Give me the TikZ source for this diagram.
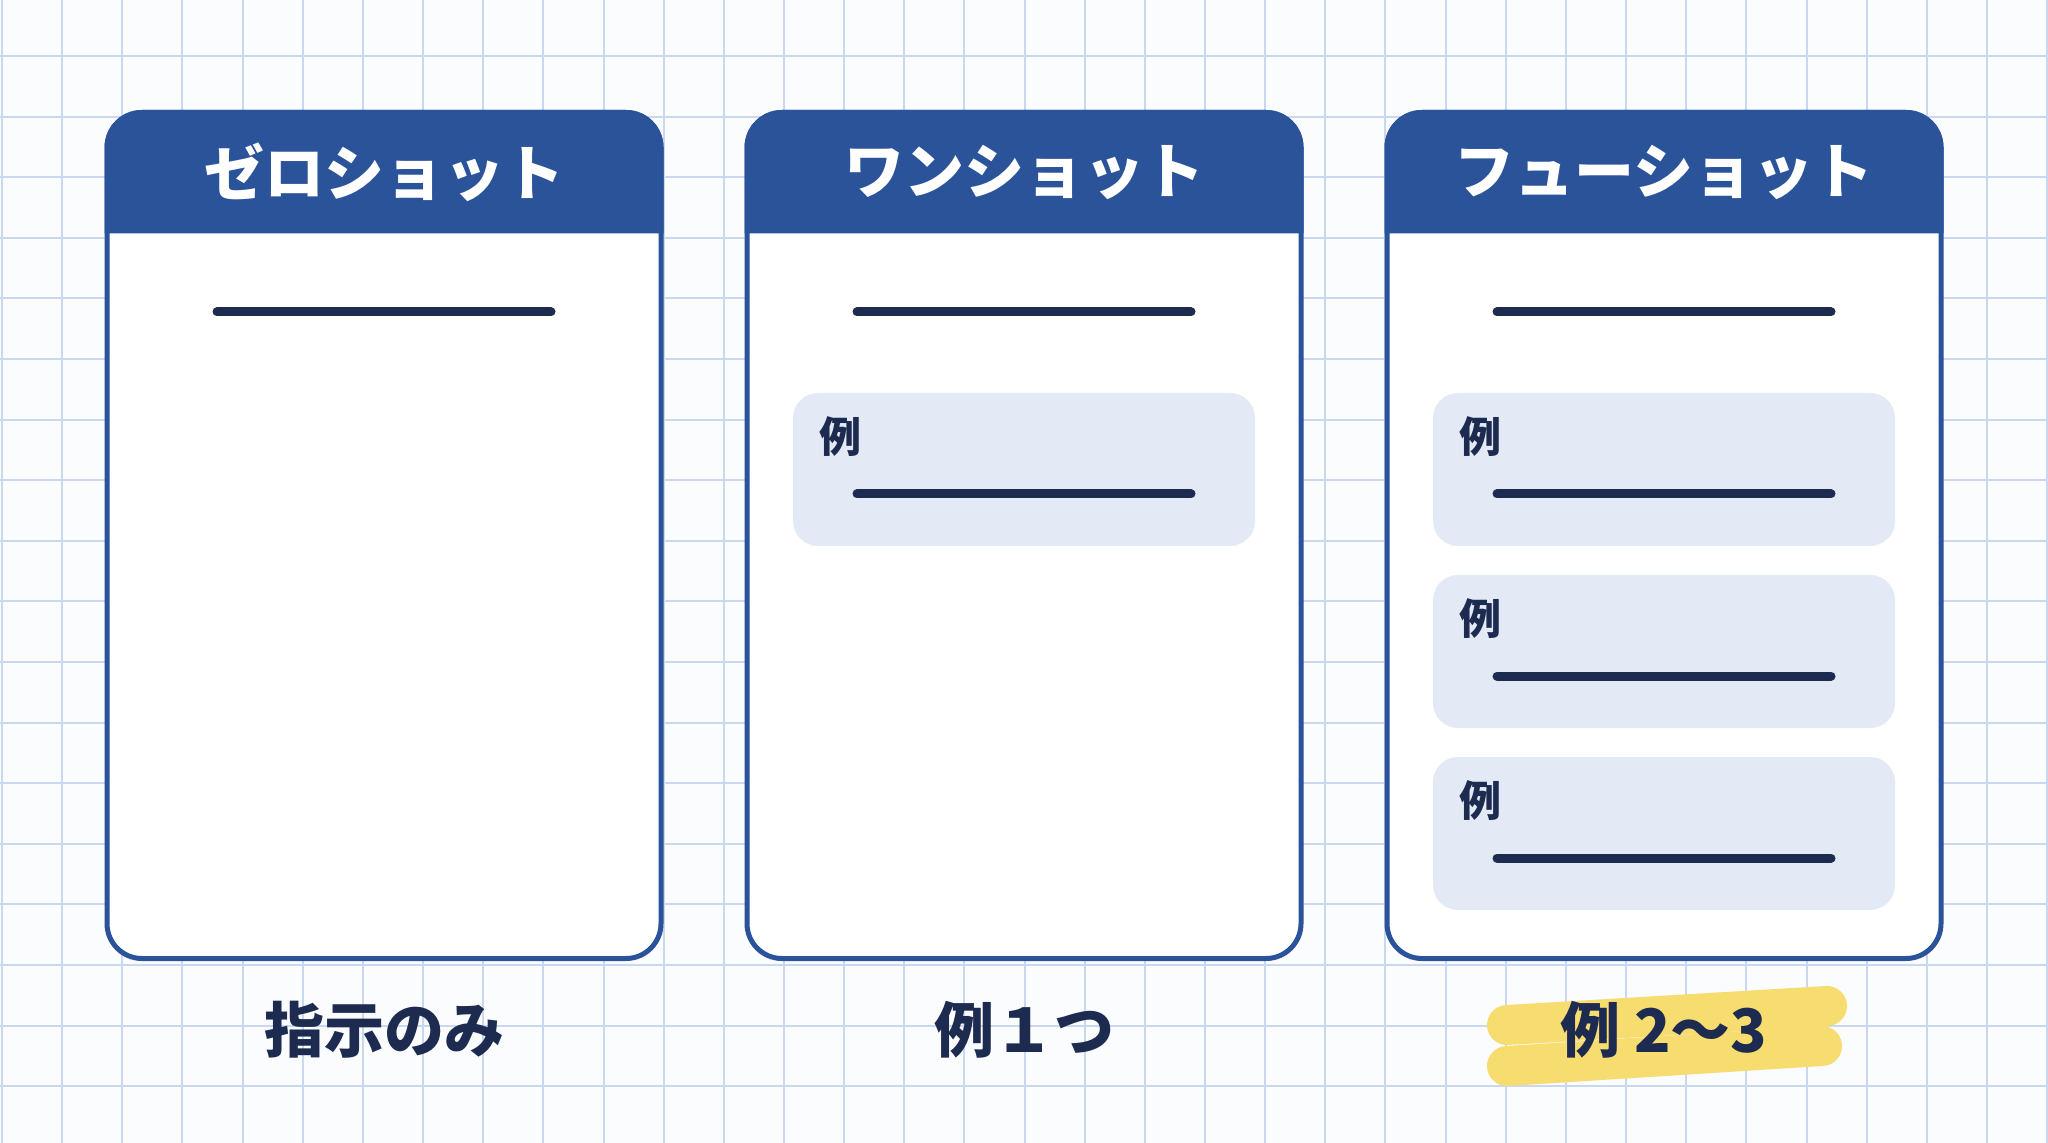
\documentclass[tikz,border=0pt]{standalone}
\usepackage{fontspec}
\usetikzlibrary{positioning,calc}
\newfontfamily\jpfont{Noto Sans CJK JP}

\definecolor{pagebg}{HTML}{FBFCFE}
\definecolor{gridblue}{HTML}{C9D8EF}
\definecolor{headblue}{HTML}{2A539A}
\definecolor{navy}{HTML}{1C2B4F}
\definecolor{exfill}{HTML}{E3EAF6}
\definecolor{markyellow}{HTML}{F7DC6F}

\tikzset{
  gridline/.style={draw=gridblue, line width=1pt},
  card/.style={draw=headblue, fill=white, line width=2.5pt, rounded corners=17.5pt,
    minimum width=277pt, minimum height=423pt, outer sep=0pt},
  header/.style={fill=headblue, draw=headblue, line width=2.5pt},
  headtxt/.style={text=white, font=\jpfont\bfseries\fontsize{30}{36}\selectfont},
  rule/.style={draw=navy, line width=4.5pt, line cap=round},
  exbox/.style={fill=exfill, rounded corners=12.5pt, minimum width=231pt,
    minimum height=76.5pt, outer sep=0pt},
  extag/.style={text=navy, font=\jpfont\bfseries\fontsize{21}{25}\selectfont},
  capt/.style={text=navy, font=\jpfont\bfseries\fontsize{30}{36}\selectfont},
  hilite/.style={draw=markyellow, line width=20pt, line cap=round},
}

\begin{document}
\begin{tikzpicture}[x=0.5pt, y=-0.5pt]

  % Page and squared paper
  \useasboundingbox (0,0) rectangle (2048,1143);
  \fill[pagebg] (0,0) rectangle (2048,1143);
  \foreach \k in {0,...,34}
    \draw[gridline] (2+60.15*\k,0) -- (2+60.15*\k,1143);
  \foreach \k in {0,...,17}
    \draw[gridline] (0,56+60.6*\k) -- (2048,56+60.6*\k);

  % The three prompt cards
  \node[card] (zero) at (384,535.5) {};
  \node[card, right=43pt of zero] (one) {};
  \node[card, right=43pt of one] (few) {};

  % Blue title bars, rounded only at the top
  \foreach \c in {zero,one,few}
    \filldraw[header] ($(\c.north west)+(0,118.5)$) [rounded corners=17.5pt]
      -- (\c.north west) -- (\c.north east) [sharp corners]
      -- ($(\c.north east)+(0,118.5)$) -- cycle;

  \node[headtxt] (zerot) at ($(zero.north)+(0,59.5)$) {ゼロショット};
  \node[headtxt] (onet) at ($(one.north)+(0,59.5)$) {ワンショット};
  \node[headtxt] (fewt) at ($(few.north)+(0,59.5)$) {フューショット};

  % Instruction line in every card
  \foreach \c in {zero,one,few}
    \draw[rule] ($(\c.north)+(-167,199.5)$) -- ($(\c.north)+(167,199.5)$);

  % Example boxes
  \node[exbox] (ex1) at ($(one.north)+(0,357)$) {};
  \node[exbox] (ex2) at ($(few.north)+(0,357)$) {};
  \node[exbox, below=14.5pt of ex2] (ex3) {};
  \node[exbox, below=14.5pt of ex3] (ex4) {};

  \foreach \b in {ex1,ex2,ex3,ex4} {
    \node[extag] (\b-tag) at ($(\b.north west)+(47,44)$) {例};
    \draw[rule] ($(\b.north)+(-167,101)$) -- ($(\b.north)+(167,101)$);
  }

  % Captions under the cards
  \node[capt] (zerol) at ($(zero.south)+(0,71.5)$) {指示のみ};
  \node[capt] (onel) at ($(one.south)+(0,71.5)$) {例１つ};
  \coordinate (fewc) at ($(few.south)+(0,71.5)$);
  \draw[hilite] ($(fewc)+(-157,-5)$) -- ($(fewc)+(163,-24)$);
  \draw[hilite] ($(fewc)+(-157,36)$) -- ($(fewc)+(158,16)$);
  \node[capt] (fewl) at (fewc) {例 2〜3};

\end{tikzpicture}
\end{document}
